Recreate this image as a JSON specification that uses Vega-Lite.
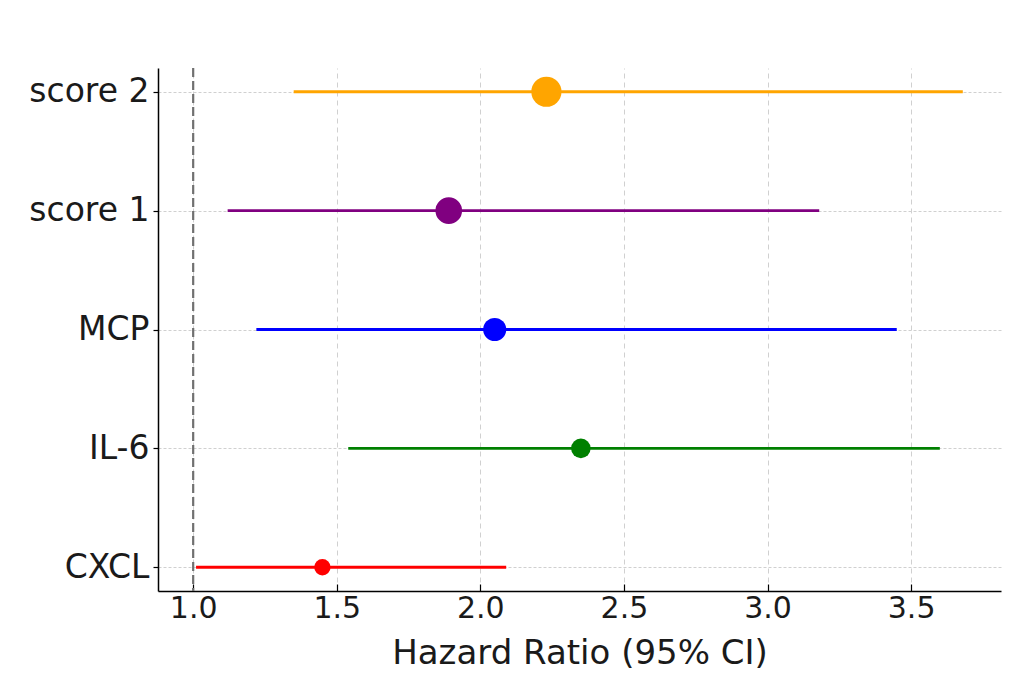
{
  "$schema": "https://vega.github.io/schema/vega-lite/v6.json",
  "autosize": "none",
  "width": 843,
  "height": 523,
  "padding": {"left": 158, "top": 68, "right": 21, "bottom": 93},
  "background": "white",
  "config": {
    "view": {"stroke": null},
    "font": "DejaVu Sans",
    "axis": {
      "domainColor": "black",
      "domainWidth": 1.5,
      "tickColor": "black",
      "tickWidth": 1.2,
      "labelColor": "#1a1a1a",
      "titleColor": "#1a1a1a",
      "labelFont": "DejaVu Sans",
      "titleFont": "DejaVu Sans",
      "titleFontWeight": "normal",
      "gridColor": "#d0d0d0",
      "gridWidth": 1
    }
  },
  "datasets": {
    "rows": [
      {"label": "score 2", "hr": 2.23, "lo": 1.35, "hi": 3.68, "rank": 5},
      {"label": "score 1", "hr": 1.89, "lo": 1.12, "hi": 3.18, "rank": 4},
      {"label": "MCP", "hr": 2.05, "lo": 1.22, "hi": 3.45, "rank": 3},
      {"label": "IL-6", "hr": 2.35, "lo": 1.54, "hi": 3.6, "rank": 2},
      {"label": "CXCL", "hr": 1.45, "lo": 1.01, "hi": 2.09, "rank": 1}
    ],
    "ref": [{"ref": 1.0}]
  },
  "layer": [
    {
      "data": {"name": "ref"},
      "mark": {"type": "rule", "color": "#707070", "strokeWidth": 2.2, "strokeDash": [9, 4]},
      "encoding": {
        "x": {"field": "ref", "type": "quantitative", "scale": {"domain": [0.8775, 3.813], "nice": false, "zero": false}}
      }
    },
    {
      "data": {"name": "rows"},
      "mark": {"type": "rule", "strokeWidth": 2.8},
      "encoding": {
        "x": {
          "field": "lo", "type": "quantitative",
          "scale": {"domain": [0.8775, 3.813], "nice": false, "zero": false},
          "axis": {
            "title": "Hazard Ratio (95% CI)",
            "values": [1.0, 1.5, 2.0, 2.5, 3.0, 3.5],
            "format": ".1f",
            "labelFontSize": 30,
            "titleFontSize": 34,
            "tickSize": -7,
            "labelPadding": 9,
            "titlePadding": 13,
            "gridDash": [5, 4],
            "labelFlush": false
          }
        },
        "x2": {"field": "hi"},
        "y": {
          "field": "label", "type": "nominal",
          "sort": ["score 2", "score 1", "MCP", "IL-6", "CXCL"],
          "scale": {"type": "point", "padding": 0.2},
          "axis": {
            "title": null,
            "labelFontSize": 33,
            "tickSize": 5,
            "labelPadding": 4,
            "gridDash": [3, 2],
            "grid": true
          }
        },
        "color": {
          "field": "label", "type": "nominal",
          "scale": {"domain": ["score 2", "score 1", "MCP", "IL-6", "CXCL"], "range": ["#FFA500", "#800080", "#0000FF", "#008000", "#FF0000"]},
          "legend": null
        }
      }
    },
    {
      "data": {"name": "rows"},
      "mark": {"type": "circle", "opacity": 1},
      "encoding": {
        "x": {"field": "hr", "type": "quantitative"},
        "y": {"field": "label", "type": "nominal", "sort": ["score 2", "score 1", "MCP", "IL-6", "CXCL"]},
        "size": {"field": "rank", "type": "quantitative", "scale": {"type": "pow", "exponent": 1.5, "domain": [1, 5], "range": [269, 908], "zero": false}, "legend": null},
        "color": {"field": "label", "type": "nominal", "legend": null}
      }
    }
  ]
}
